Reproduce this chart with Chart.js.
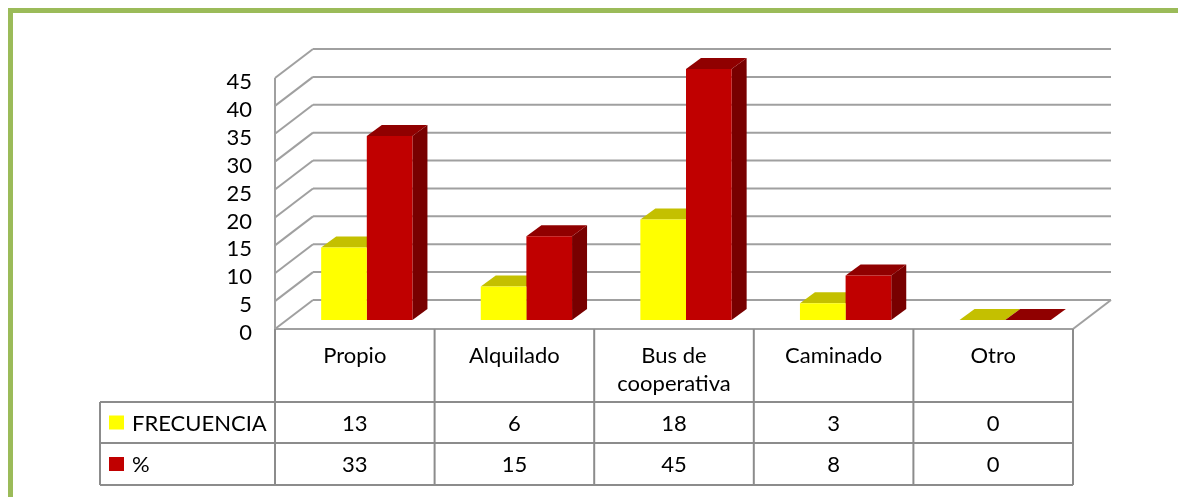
<!DOCTYPE html>
<html>
<head>
<meta charset="utf-8">
<script src="https://cdn.jsdelivr.net/npm/chart.js@4/dist/chart.umd.min.js"></script>
<style>
  body { margin: 0; background: #fff; }
  canvas { display: block; }
</style>
</head>
<body>
<canvas id="transporteChart" width="1178" height="497"></canvas>
<script>
let categorias = ["Propio", "Alquilado", ["Bus de", "cooperativa"], "Caminado", "Otro"];
let frecuencia = [13, 6, 18, 3, 0];
let porcentaje = [33, 15, 45, 8, 0];
let yTicks = [0, 5, 10, 15, 20, 25, 30, 35, 40, 45];

let fuente = "22px Lato";
let gris = "#a0a0a0";

// offsets of the 3D box relative to the plane the bars stand on
let frente = {dx: -12, dy: 9};
let fondo = {dx: 26, dy: -20};
let prof = {dx: 15, dy: -11};

function poly(ctx, pts, color) {
  ctx.beginPath();
  ctx.moveTo(pts[0][0], pts[0][1]);
  for (let i = 1; i < pts.length; i++) ctx.lineTo(pts[i][0], pts[i][1]);
  ctx.closePath();
  ctx.fillStyle = color;
  ctx.fill();
}

function line(ctx, x1, y1, x2, y2) {
  ctx.beginPath();
  ctx.moveTo(x1, y1);
  ctx.lineTo(x2, y2);
  ctx.stroke();
}

const caja3d = {
  id: "caja3d",
  beforeDraw(chart) {
    let ctx = chart.ctx;
    let ca = chart.chartArea;
    let y = chart.scales.y;
    let fl = ca.left + frente.dx, fr = ca.right + frente.dx;

    ctx.save();
    ctx.fillStyle = "#fff";
    ctx.fillRect(0, 0, chart.width, chart.height);

    // green frame
    ctx.strokeStyle = "#9bbb59";
    ctx.lineWidth = 5;
    ctx.strokeRect(10.5, 10.5, chart.width + 20, chart.height + 20);

    // walls and gridlines
    ctx.strokeStyle = gris;
    ctx.lineWidth = 2;
    let bx = fl - frente.dx + fondo.dx;
    let bxr = fr - frente.dx + fondo.dx;
    for (let v of yTicks) {
      let yf = y.getPixelForValue(v) + frente.dy;
      let yb = y.getPixelForValue(v) + fondo.dy;
      line(ctx, fl, yf, bx, yb);
      line(ctx, bx, yb, bxr, yb);
    }
    let y0 = y.getPixelForValue(0) + frente.dy;
    let y45 = y.getPixelForValue(45) + frente.dy;
    line(ctx, fl, y45, fl, y0);
    line(ctx, fl, y0, fr, y0);
    line(ctx, fr, y0, bxr, y.getPixelForValue(0) + fondo.dy);

    // axis labels
    ctx.font = fuente;
    ctx.fillStyle = "#000";
    ctx.textAlign = "right";
    ctx.textBaseline = "middle";
    for (let v of yTicks) {
      ctx.fillText(String(v), fl - 23, y.getPixelForValue(v) + frente.dy + 4);
    }

    // data table
    let colW = (fr - fl) / categorias.length;
    let filaTop = y0 + 73, fila2 = filaTop + 41, filaBot = fila2 + 42;
    let tablaLeft = 100;
    ctx.strokeStyle = "#8c8c8c";
    for (let i = 0; i <= categorias.length; i++) {
      line(ctx, fl + i * colW, y0, fl + i * colW, filaBot);
    }
    line(ctx, tablaLeft, filaTop, fr, filaTop);
    line(ctx, tablaLeft, fila2, fr, fila2);
    line(ctx, tablaLeft, filaBot, fr, filaBot);
    line(ctx, tablaLeft, filaTop, tablaLeft, filaBot);

    ctx.fillStyle = "#000";
    ctx.textAlign = "center";
    for (let i = 0; i < categorias.length; i++) {
      let cx = fl + (i + 0.5) * colW;
      let lab = [].concat(categorias[i]);
      for (let k = 0; k < lab.length; k++) {
        ctx.fillText(lab[k], cx, y0 + 27 + k * 28);
      }
      ctx.fillText(String(frecuencia[i]), cx, (filaTop + fila2) / 2 + 1);
      ctx.fillText(String(porcentaje[i]), cx, (fila2 + filaBot) / 2 + 1);
    }

    let series = chart.data.datasets;
    let filas = [(filaTop + fila2) / 2, (fila2 + filaBot) / 2];
    ctx.textAlign = "left";
    for (let s = 0; s < series.length; s++) {
      ctx.fillStyle = series[s].backgroundColor;
      ctx.fillRect(tablaLeft + 9, filas[s] - 7, 15, 14);
      ctx.fillStyle = "#000";
      ctx.fillText(series[s].label, tablaLeft + 32, filas[s] + 1);
    }
    ctx.restore();
  },
  beforeDatasetsDraw(chart) {
    let ctx = chart.ctx;
    ctx.save();
    chart.data.datasets.forEach((ds, s) => {
      chart.getDatasetMeta(s).data.forEach(bar => {
        let l = bar.x - bar.width / 2, r = bar.x + bar.width / 2;
        let t = bar.y, b = bar.base;
        poly(ctx, [[r, t], [r + prof.dx, t + prof.dy], [r + prof.dx, b + prof.dy], [r, b]], ds.sideColor);
        poly(ctx, [[l, t], [r, t], [r + prof.dx, t + prof.dy], [l + prof.dx, t + prof.dy]], ds.topColor);
      });
    });
    ctx.restore();
  }
};

new Chart(document.getElementById("transporteChart"), {
  type: "bar",
  data: {
    labels: categorias,
    datasets: [{
      label: "FRECUENCIA",
      data: frecuencia,
      backgroundColor: "#ffff00",
      topColor: "#c4c000",
      sideColor: "#9a9700"
    }, {
      label: "%",
      data: porcentaje,
      backgroundColor: "#c00000",
      topColor: "#900000",
      sideColor: "#780000"
    }]
  },
  options: {
    responsive: false,
    animation: false,
    devicePixelRatio: 1,
    layout: {padding: {left: 287, right: 93, top: 69, bottom: 177}},
    datasets: {bar: {categoryPercentage: 0.572, barPercentage: 1, borderWidth: 0}},
    scales: {
      x: {display: false},
      y: {display: false, min: 0, max: 45}
    },
    plugins: {legend: {display: false}, tooltip: {enabled: false}}
  },
  plugins: [caja3d]
});
</script>
</body>
</html>
